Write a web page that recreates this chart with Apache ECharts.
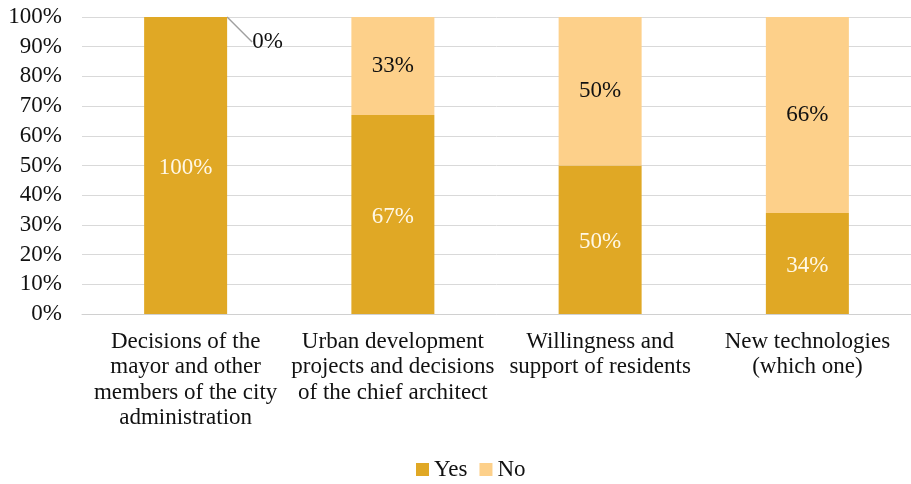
<!DOCTYPE html>
<html><head><meta charset="utf-8">
<script src="https://cdn.jsdelivr.net/npm/echarts@6/dist/echarts.min.js"></script>
<style>html,body{margin:0;padding:0;background:#fff}#c{width:911px;height:484px}</style>
</head><body><div id="c"></div>
<script>
const categories = [
  "Decisions of the\nmayor and other\nmembers of the city\nadministration",
  "Urban development\nprojects and decisions\nof the chief architect",
  "Willingness and\nsupport of residents",
  "New technologies\n(which one)"
];
const yesValues = [100, 67, 50, 34];
const noValues = [0, 33, 50, 66];
const seriesNames = ["Yes", "No"];
const yTickLabels = ["0%","10%","20%","30%","40%","50%","60%","70%","80%","90%","100%"];

const font = "Liberation Serif";
const chart = echarts.init(document.getElementById('c'));
chart.setOption({
  animation: false,
  textStyle: { fontFamily: font },
  grid: { left: 82, right: -5, top: 17, bottom: 170 },
  legend: {
    bottom: -2, left: 411, itemWidth: 13, itemHeight: 13, itemGap: 12,
    icon: 'rect',
    textStyle: { fontFamily: font, fontSize: 23, color: '#111' },
    data: seriesNames
  },
  xAxis: {
    type: 'category', data: categories,
    axisTick: { show: false },
    axisLine: { lineStyle: { color: '#d0d0d0' } },
    axisLabel: {
      interval: 0, margin: 15,
      formatter: v => v.split('\n').map(s => '{a|' + s + '}').join('\n'),
      rich: { a: { fontFamily: font, fontSize: 23, color: '#111', lineHeight: 25.5 } }
    }
  },
  yAxis: {
    type: 'value', min: 0, max: 100, interval: 10,
    axisLabel: { fontFamily: font, fontSize: 23, color: '#111', margin: 20,
      formatter: v => yTickLabels[Math.round(v / 10)] },
    splitLine: { lineStyle: { color: '#d9d9d9' } },
    axisLine: { show: false }, axisTick: { show: false }
  },
  series: [
    {
      name: seriesNames[0], type: 'bar', stack: 's', barWidth: 83,
      itemStyle: { color: '#E0A825' },
      label: { show: true, position: 'inside', offset: [0, 2], color: '#FFF8E6', fontFamily: font, fontSize: 23,
        formatter: p => p.value + '%' },
      data: yesValues
    },
    {
      name: seriesNames[1], type: 'bar', stack: 's', barWidth: 83,
      itemStyle: { color: '#FDD08A' },
      label: { show: true, position: 'inside', offset: [0, 2], color: '#111', fontFamily: font, fontSize: 23,
        formatter: p => p.value + '%' },
      data: noValues.map((v, i) => i === 0 ? {
        value: v,
        label: { position: 'right', offset: [0, 0] },
        labelLine: { show: true, lineStyle: { color: '#a0a0a0', width: 1.5 } }
      } : v),
      labelLayout: p => p.dataIndex === 0 ? { dx: 20, dy: 25 } : {},
      labelLine: { show: false }
    }
  ]
});
</script></body></html>
